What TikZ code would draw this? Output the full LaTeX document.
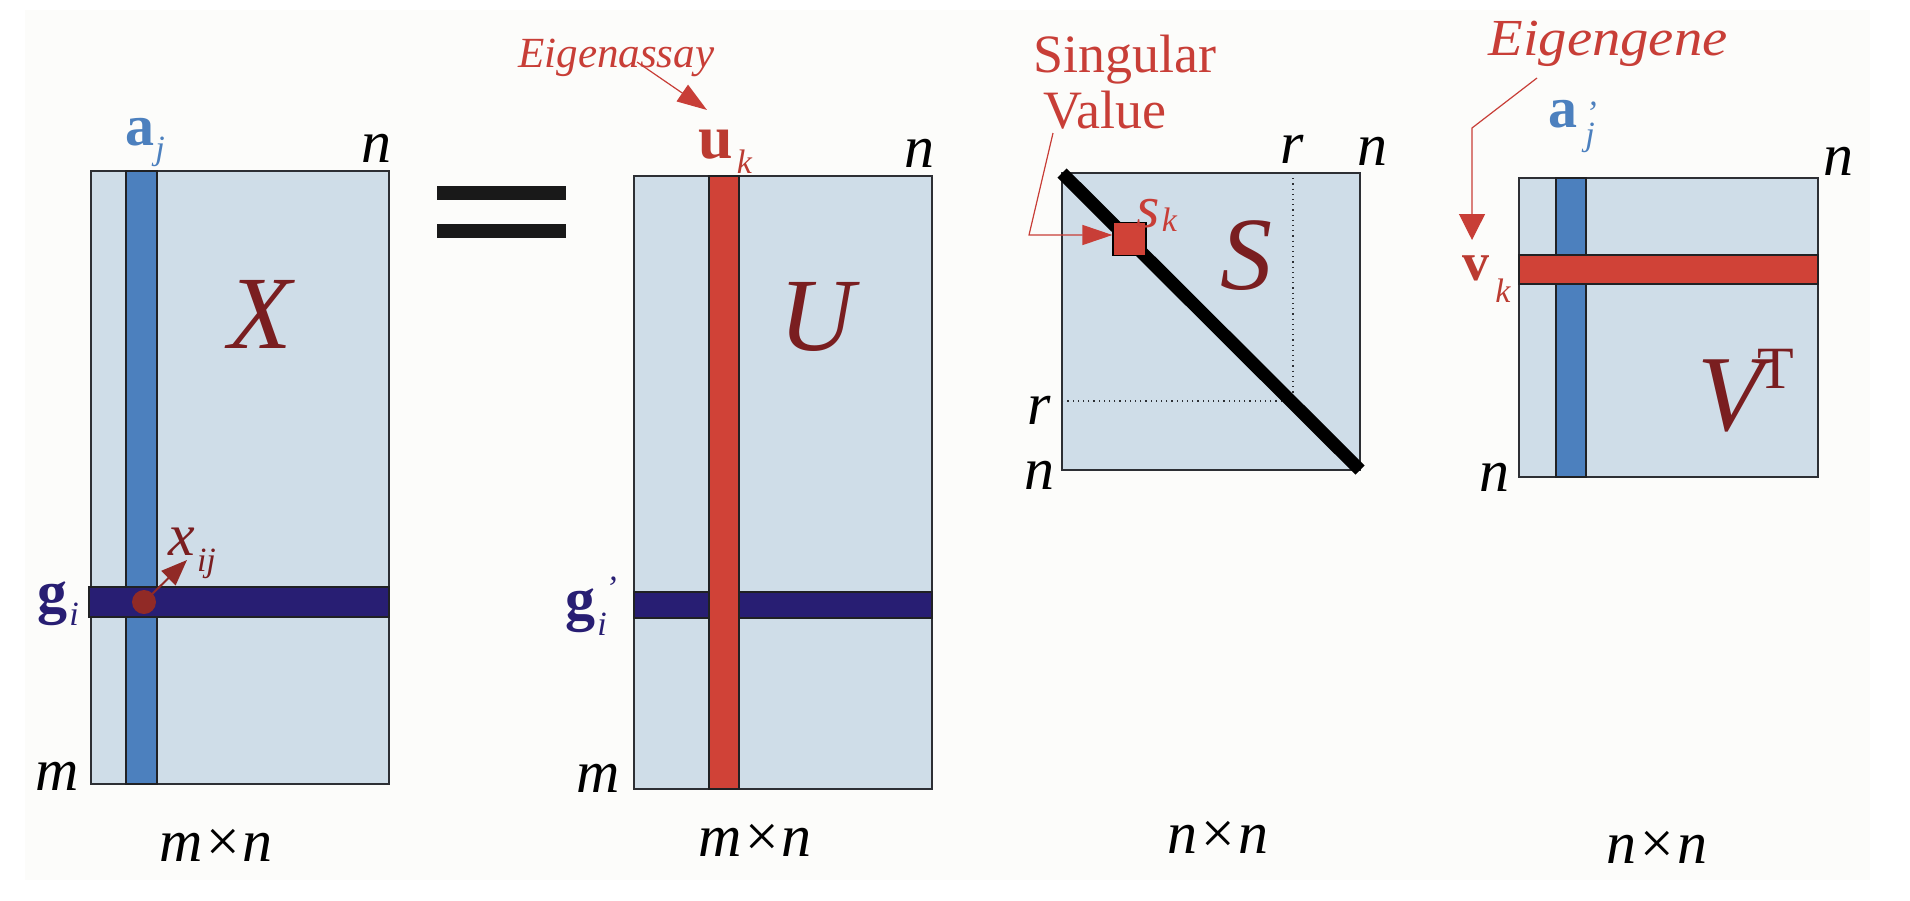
\documentclass[tikz,border=0pt]{standalone}
\usepackage{fontspec}
\setmainfont{Liberation Serif}
\usetikzlibrary{arrows.meta}
\definecolor{panel}{RGB}{252,252,250}
\definecolor{matfill}{RGB}{207,221,232}
\definecolor{colblue}{RGB}{76,128,190}
\definecolor{navy}{RGB}{40,30,115}
\definecolor{redbar}{RGB}{208,66,55}
\definecolor{matlbl}{RGB}{122,30,32}
\definecolor{lblred}{RGB}{200,62,55}
\definecolor{edgec}{RGB}{45,47,52}
\definecolor{dotred}{RGB}{145,42,38}
\newcommand{\fsz}[1]{\fontsize{#1}{#1}\selectfont}
\begin{document}
\begin{tikzpicture}[x=0.5pt,y=-0.5pt,
  mat/.style={draw=edgec,line width=1pt,fill=matfill},
  stripb/.style={draw=edgec!70!black,line width=0.8pt},
  dimlbl/.style={inner sep=0pt,font=\fsz{30}\itshape},
  biglbl/.style={inner sep=0pt,text=matlbl,font=\fsz{52}\itshape},
  veclbl/.style={inner sep=0pt,anchor=base west},
  note/.style={inner sep=0pt,anchor=base west,text=lblred},
  ptr/.style={draw=lblred,line width=0.6pt,-{Triangle[length=15pt,width=10pt]}},
]
\useasboundingbox (0,0) rectangle (1910,900);
\fill[white] (0,0) rectangle (1910,900);
\fill[panel] (25,10) rectangle (1870,880);

% ---------- X ----------
\draw[mat] (91,171) rectangle (389,784);
\draw[stripb,fill=colblue] (126,171) rectangle (157,784);
\draw[stripb,fill=navy] (89,587) rectangle (389,617);
\fill[dotred] (144,602) circle[radius=6pt];
\coordinate (xdot) at (144,602);
\coordinate (xtip) at (187,560);
\draw[draw=dotred,line width=1pt,-{Triangle[length=13pt,width=10pt]}] (xdot) -- (xtip);

\node[veclbl,text=colblue,font=\fsz{29}\bfseries] (aj) at (125,145) {a\kern0.5pt\raisebox{-7pt}{\fsz{17}\mdseries\itshape j}};
\node[dimlbl] (nX) at (376,148) {n};
\node[veclbl,text=navy,font=\fsz{30}\bfseries] (gi) at (37,612) {g\kern1pt\raisebox{-6.5pt}{\fsz{17}\mdseries\itshape i}};
\node[dimlbl] (mX) at (57,776) {m};
\node[biglbl] (Xl) at (260,314) {X};
\node[veclbl,text=matlbl,font=\fsz{30}\itshape] (xij) at (168,555) {x\kern1pt\raisebox{-8pt}{\fsz{17}ij}};
\node[dimlbl] (mnX) at (216,845) {m×n};

% ---------- equals ----------
\fill[black!90] (437,186) rectangle (566,200);
\fill[black!90] (437,224) rectangle (566,238);

% ---------- U ----------
\draw[mat] (634,176) rectangle (932,789);
\draw[stripb,fill=navy] (634,592) rectangle (932,618);
\draw[stripb,fill=redbar] (709,176) rectangle (739,789);
\node[veclbl,text=redbar!90!black,font=\fsz{31}\bfseries] (uk) at (698,158) {u\kern2pt\raisebox{-7.5pt}{\fsz{17}\mdseries\itshape k}};
\node[dimlbl] (nU) at (919,153) {n};
\node[veclbl,text=navy,font=\fsz{30}\bfseries] (gip) at (565,619) {g\kern1pt\makebox[0pt][l]{\hspace{4pt}\raisebox{10pt}{\fsz{17}\mdseries\itshape ’}}\raisebox{-8pt}{\fsz{17}\mdseries\itshape i}};
\node[dimlbl] (mU) at (598,778) {m};
\node[biglbl] (Ul) at (817,317) {U};
\node[dimlbl] (mnU) at (755,840) {m×n};
\node[note,font=\fsz{21.5}\itshape] (ea) at (518,67) {Eigenassay};
\coordinate (eaA) at (637,62);
\coordinate (ukT) at (707,110);
\draw[ptr] (eaA) -- (ukT);

% ---------- S ----------
\draw[mat] (1062,173) rectangle (1360,470);
\draw[edgec,line width=0.6pt,dotted] (1293,173) -- (1293,401) -- (1062,401);
\draw[black,line width=6.5pt] (1062,173) -- (1360,470);
\node[draw=black,fill=redbar,line width=0.6pt,inner sep=0pt,minimum size=16.5pt] (sq) at (1129.5,239) {};
\node[note,font=\fsz{30}\itshape] (sk) at (1136,227) {s\kern1pt\raisebox{-2pt}{\fsz{17}k}};
\node[biglbl] (Sl) at (1246,256) {S};
\node[dimlbl] (rT) at (1292,149) {r};
\node[dimlbl] (nST) at (1372,151) {n};
\node[dimlbl] (rL) at (1039,410) {r};
\node[dimlbl] (nSL) at (1039,475) {n};
\node[dimlbl] (nnS) at (1218,837) {n×n};
\node[note,font=\fsz{27}] (sv1) at (1033,72) {Singular};
\node[note,font=\fsz{27}] (sv2) at (1043,128) {Value};
\coordinate (svA) at (1053,133);
\coordinate (svB) at (1029,235);
\draw[ptr] (svA) -- (svB) -- (svB -| sq.west);

% ---------- V^T ----------
\draw[mat] (1519,178) rectangle (1818,477);
\draw[stripb,fill=colblue] (1556,178) rectangle (1586,477);
\draw[stripb,fill=redbar] (1519,255) rectangle (1818,284);
\node[veclbl,text=colblue,font=\fsz{29}\bfseries] (ajp) at (1548,127) {a\hspace{4pt}\makebox[0pt][l]{\raisebox{1.5pt}{\fsz{17}\mdseries\itshape ’}}\raisebox{-9pt}{\fsz{17}\mdseries\itshape j}};
\node[veclbl,text=redbar!90!black,font=\fsz{27}\bfseries] (vk) at (1462,280) {v\kern3pt\raisebox{-11pt}{\fsz{17}\mdseries\itshape k}};
\node[dimlbl] (nVT) at (1838,161) {n};
\node[dimlbl] (nVL) at (1494,477) {n};
\node[inner sep=0pt,anchor=base west,text=matlbl] (VT) at (1697,430) {\fsz{54}\itshape V\kern-3pt\raisebox{21pt}{\fsz{30}\upshape T}};
\node[dimlbl] (nnV) at (1657,847) {n×n};
\node[note,font=\fsz{26}\itshape] (eg) at (1488,55) {\scalebox{1.09}[1]{Eigengene}};
\coordinate (egA) at (1537,78);
\coordinate (egB) at (1472,128);
\coordinate (egC) at (1472,240);
\draw[ptr,-{Triangle[length=13pt,width=13pt]}] (egA) -- (egB) -- (egC);
\end{tikzpicture}
\end{document}
